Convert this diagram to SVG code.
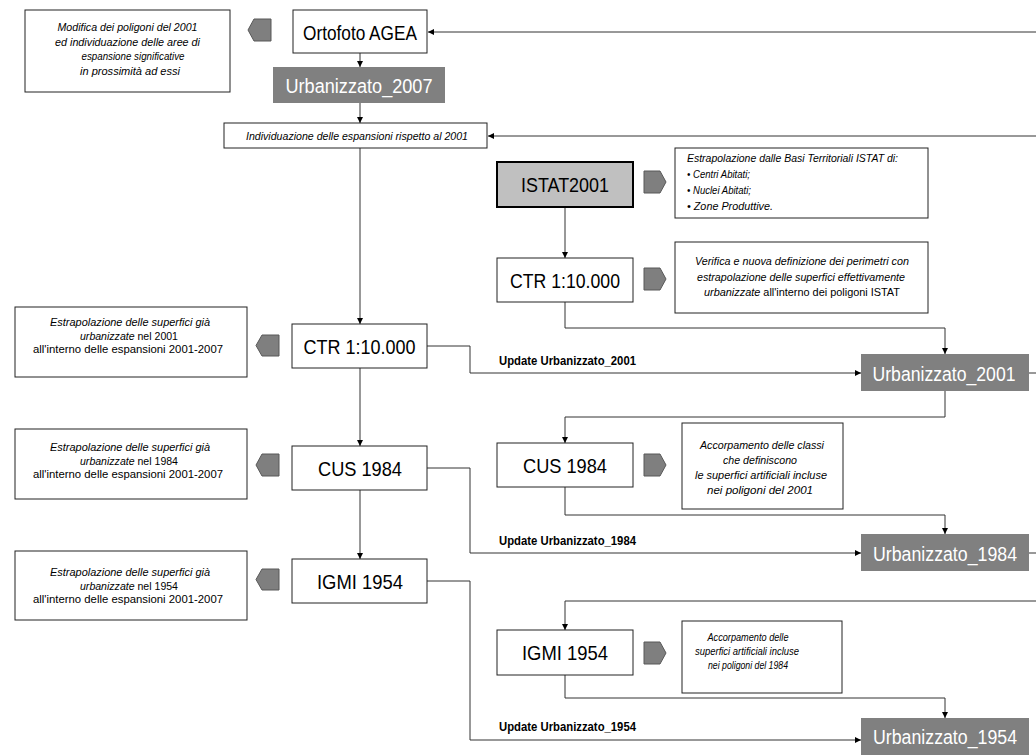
<svg xmlns="http://www.w3.org/2000/svg" width="1036" height="755" viewBox="0 0 1036 755">
<defs>
<marker id="arr" markerWidth="6" markerHeight="6" refX="6" refY="3" orient="auto" markerUnits="userSpaceOnUse">
<path d="M0,0 L6,3 L0,6 z" fill="#000"/>
</marker>
<style>
.box{fill:#fff;stroke:#222;stroke-width:1}
.istat{fill:#c0c0c0;stroke:#000;stroke-width:2}
.urb{fill:#808080;stroke:none}
.t{font-family:"Liberation Sans",Arial,sans-serif;font-size:21px;fill:#000;text-anchor:middle}
.tw{fill:#fff;font-size:20px}
.n{font-family:"Liberation Sans",Arial,sans-serif;font-size:11px;font-style:italic;fill:#000;text-anchor:middle}
.ns{text-anchor:start}
.r{font-style:normal}
.lbl{font-family:"Liberation Sans",Arial,sans-serif;font-size:12px;font-weight:bold;fill:#000}
.c{fill:none;stroke:#333;stroke-width:1}
.p{fill:#7f7f7f;stroke:#595959;stroke-width:1}
</style>
</defs>
<rect width="1036" height="755" fill="#fff"/>

<g id="connectors">
<path class="c" d="M1036,32 H428" marker-end="url(#arr)"/>
<path class="c" d="M360,53 V67" marker-end="url(#arr)"/>
<path class="c" d="M360,103 V123" marker-end="url(#arr)"/>
<path class="c" d="M1036,136 H488" marker-end="url(#arr)"/>
<path class="c" d="M360,148 V324" marker-end="url(#arr)"/>
<path class="c" d="M360,368 V446" marker-end="url(#arr)"/>
<path class="c" d="M360,490 V559" marker-end="url(#arr)"/>
<path class="c" d="M565,207 V258" marker-end="url(#arr)"/>
<path class="c" d="M565,302 V328 H945 V354" marker-end="url(#arr)"/>
<path class="c" d="M427,346 H470 V373 H861" marker-end="url(#arr)"/>
<path class="c" d="M1029,373 H1036"/>
<path class="c" d="M945,391 V417 H565 V443" marker-end="url(#arr)"/>
<path class="c" d="M565,487 V515 H945 V534" marker-end="url(#arr)"/>
<path class="c" d="M427,468 H470 V553 H861" marker-end="url(#arr)"/>
<path class="c" d="M1029,553 H1036"/>
<path class="c" d="M1036,601 H565 V630" marker-end="url(#arr)"/>
<path class="c" d="M565,675 V698 H945 V718" marker-end="url(#arr)"/>
<path class="c" d="M427,581 H470 V740 H861" marker-end="url(#arr)"/>
<text class="lbl" x="499" y="365" textLength="137" lengthAdjust="spacingAndGlyphs">Update Urbanizzato_2001</text>
<text class="lbl" x="499" y="545" textLength="137" lengthAdjust="spacingAndGlyphs">Update Urbanizzato_1984</text>
<text class="lbl" x="499" y="731" textLength="137" lengthAdjust="spacingAndGlyphs">Update Urbanizzato_1954</text>
</g>

<g id="note-modifica">
<rect class="box" x="25" y="10" width="205" height="82"/>
<text class="n" x="127.5" y="31" textLength="140" lengthAdjust="spacingAndGlyphs">Modifica dei poligoni del 2001</text>
<text class="n" x="127.5" y="45.5" textLength="145" lengthAdjust="spacingAndGlyphs">ed individuazione delle aree di</text>
<text class="n" x="133" y="60" textLength="103" lengthAdjust="spacingAndGlyphs">espansione significative</text>
<text class="n" x="130" y="74.5" textLength="100" lengthAdjust="spacingAndGlyphs">in  prossimità ad essi</text>
</g>
<g id="pent-1"><polygon class="p" points="254,19 271,19 271,41 254,41 248,30"/></g>

<g id="ortofoto">
<rect class="box" x="293" y="10" width="134" height="43"/>
<text class="t" x="360" y="39.5" textLength="114" lengthAdjust="spacingAndGlyphs">Ortofoto AGEA</text>
</g>
<g id="urb2007">
<rect class="urb" x="273" y="67" width="172" height="36"/>
<text class="t tw" x="359" y="92.5" textLength="147" lengthAdjust="spacingAndGlyphs">Urbanizzato_2007</text>
</g>
<g id="individuazione">
<rect class="box" x="224" y="123" width="263" height="25"/>
<text class="n" x="357" y="140" textLength="222" lengthAdjust="spacingAndGlyphs">Individuazione delle espansioni rispetto al 2001</text>
</g>

<g id="istat2001">
<rect class="istat" x="497" y="162" width="136" height="45"/>
<text class="t" x="565" y="192" textLength="88" lengthAdjust="spacingAndGlyphs">ISTAT2001</text>
</g>
<g id="pent-istat"><polygon class="p" points="644,171 660,171 666,182 660,193 644,193"/></g>
<g id="note-istat">
<rect class="box" x="675" y="148" width="253" height="70"/>
<text class="n ns" x="687" y="162" textLength="211" lengthAdjust="spacingAndGlyphs">Estrapolazione dalle Basi Territoriali ISTAT di:</text>
<text class="n ns" x="687" y="178" textLength="63" lengthAdjust="spacingAndGlyphs">• Centri Abitati;</text>
<text class="n ns" x="687" y="194" textLength="64" lengthAdjust="spacingAndGlyphs">• Nuclei Abitati;</text>
<text class="n ns" x="687" y="210" textLength="86" lengthAdjust="spacingAndGlyphs">• Zone Produttive.</text>
</g>

<g id="ctr-right">
<rect class="box" x="497" y="258" width="136" height="44"/>
<text class="t" x="565" y="287.5" textLength="110" lengthAdjust="spacingAndGlyphs">CTR 1:10.000</text>
</g>
<g id="pent-ctr-right"><polygon class="p" points="644,268 660,268 666,279 660,290 644,290"/></g>
<g id="note-verifica">
<rect class="box" x="675" y="242" width="253" height="71"/>
<text class="n" x="802" y="265" textLength="214" lengthAdjust="spacingAndGlyphs">Verifica e nuova definizione dei perimetri con</text>
<text class="n" x="801" y="280.5" textLength="208" lengthAdjust="spacingAndGlyphs">estrapolazione delle superfici effettivamente</text>
<text class="n" x="802" y="296" textLength="196" lengthAdjust="spacingAndGlyphs">urbanizzate<tspan class="r"> all'interno dei poligoni ISTAT</tspan></text>
</g>

<g id="note-ctr-left">
<rect class="box" x="15" y="307" width="232" height="70"/>
<text class="n" x="130" y="326" textLength="160" lengthAdjust="spacingAndGlyphs">Estrapolazione delle superfici già</text>
<text class="n" x="129" y="339.5" textLength="98" lengthAdjust="spacingAndGlyphs">urbanizzate<tspan class="r"> nel 2001</tspan></text>
<text class="n r" x="128" y="353" textLength="190" lengthAdjust="spacingAndGlyphs">all'interno delle espansioni  2001-2007</text>
</g>
<g id="pent-ctr-left"><polygon class="p" points="262,335 279,335 279,356 262,356 256,345.5"/></g>
<g id="ctr-left">
<rect class="box" x="292" y="324" width="135" height="44"/>
<text class="t" x="359.5" y="353.5" textLength="112" lengthAdjust="spacingAndGlyphs">CTR 1:10.000</text>
</g>

<g id="urb2001">
<rect class="urb" x="861" y="354" width="168" height="37"/>
<text class="t tw" x="944" y="380.5" textLength="143" lengthAdjust="spacingAndGlyphs">Urbanizzato_2001</text>
</g>

<g id="note-cus-left">
<rect class="box" x="15" y="429" width="232" height="70"/>
<text class="n" x="130" y="451" textLength="160" lengthAdjust="spacingAndGlyphs">Estrapolazione delle superfici già</text>
<text class="n" x="129" y="464.5" textLength="98" lengthAdjust="spacingAndGlyphs">urbanizzate<tspan class="r"> nel 1984</tspan></text>
<text class="n r" x="128" y="478" textLength="190" lengthAdjust="spacingAndGlyphs">all'interno delle espansioni  2001-2007</text>
</g>
<g id="pent-cus-left"><polygon class="p" points="262,454 279,454 279,476 262,476 256,465"/></g>
<g id="cus-left">
<rect class="box" x="292" y="446" width="135" height="44"/>
<text class="t" x="360" y="475.5" textLength="84" lengthAdjust="spacingAndGlyphs">CUS 1984</text>
</g>

<g id="cus-right">
<rect class="box" x="497" y="443" width="136" height="44"/>
<text class="t" x="565" y="472.5" textLength="84" lengthAdjust="spacingAndGlyphs">CUS 1984</text>
</g>
<g id="pent-cus-right"><polygon class="p" points="644,454 660,454 666,465 660,476 644,476"/></g>
<g id="note-accorpamento-1">
<rect class="box" x="682" y="423" width="161" height="86"/>
<text class="n" x="762" y="449" textLength="124" lengthAdjust="spacingAndGlyphs">Accorpamento delle classi</text>
<text class="n" x="760" y="464" textLength="74" lengthAdjust="spacingAndGlyphs">che definiscono</text>
<text class="n" x="761" y="479" textLength="132" lengthAdjust="spacingAndGlyphs">le superfici artificiali incluse</text>
<text class="n" x="760" y="494" textLength="106" lengthAdjust="spacingAndGlyphs">nei poligoni del 2001</text>
</g>

<g id="urb1984">
<rect class="urb" x="861" y="534" width="168" height="37"/>
<text class="t tw" x="945" y="560.5" textLength="144" lengthAdjust="spacingAndGlyphs">Urbanizzato_1984</text>
</g>

<g id="note-igmi-left">
<rect class="box" x="15" y="551" width="232" height="69"/>
<text class="n" x="130" y="576" textLength="160" lengthAdjust="spacingAndGlyphs">Estrapolazione delle superfici già</text>
<text class="n" x="129" y="589.5" textLength="98" lengthAdjust="spacingAndGlyphs">urbanizzate<tspan class="r"> nel 1954</tspan></text>
<text class="n r" x="128" y="603" textLength="190" lengthAdjust="spacingAndGlyphs">all'interno delle espansioni  2001-2007</text>
</g>
<g id="pent-igmi-left"><polygon class="p" points="262,569 279,569 279,590 262,590 256,579.5"/></g>
<g id="igmi-left">
<rect class="box" x="292" y="559" width="135" height="44"/>
<text class="t" x="360" y="588.5" textLength="86" lengthAdjust="spacingAndGlyphs">IGMI 1954</text>
</g>

<g id="igmi-right">
<rect class="box" x="497" y="630" width="136" height="45"/>
<text class="t" x="565" y="660" textLength="86" lengthAdjust="spacingAndGlyphs">IGMI 1954</text>
</g>
<g id="pent-igmi-right"><polygon class="p" points="644,642 660,642 666,653 660,664 644,664"/></g>
<g id="note-accorpamento-2">
<rect class="box" x="682" y="621" width="160" height="72"/>
<text class="n" x="748" y="641" textLength="81" lengthAdjust="spacingAndGlyphs">Accorpamento delle</text>
<text class="n" x="747" y="655" textLength="104" lengthAdjust="spacingAndGlyphs">superfici artificiali incluse</text>
<text class="n" x="748" y="669" textLength="80" lengthAdjust="spacingAndGlyphs">nei poligoni del 1984</text>
</g>

<g id="urb1954">
<rect class="urb" x="861" y="718" width="168" height="37"/>
<text class="t tw" x="945" y="744" textLength="144" lengthAdjust="spacingAndGlyphs">Urbanizzato_1954</text>
</g>
</svg>
